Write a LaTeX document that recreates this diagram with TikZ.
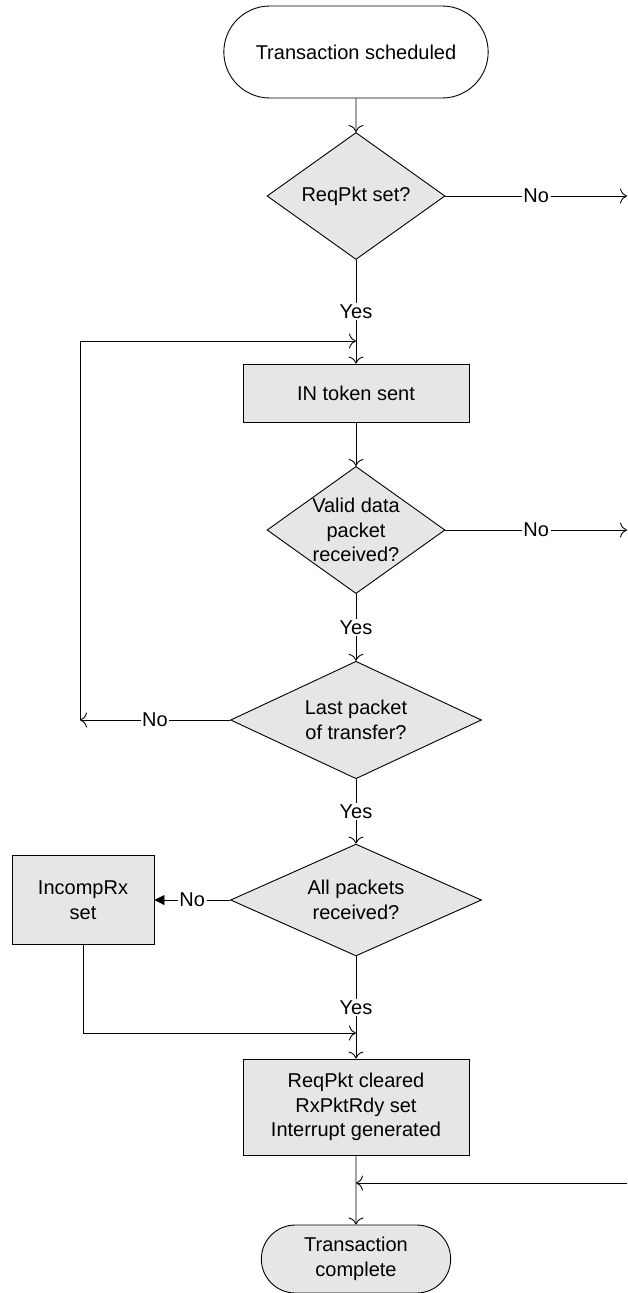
\documentclass[tikz,border=0pt]{standalone}
\usepackage{fontspec}
\setmainfont{Liberation Sans}
\usepackage{tikz}
\usetikzlibrary{shapes.geometric,arrows.meta,positioning,shapes.misc}

\definecolor{boxgray}{RGB}{230,230,230}
\tikzset{
  terminal/.style={draw, rounded rectangle, align=center, line width=0.9pt},
  process/.style={draw, rectangle, fill=boxgray, align=center, line width=0.9pt},
  decision/.style={draw, diamond, fill=boxgray, align=center, inner sep=-6pt, line width=0.9pt},
  flow/.style={-{To[length=7pt,width=15pt]}, line width=0.9pt},
  lbl/.style={fill=white, inner sep=1.5pt},
}

\begin{document}
\begin{tikzpicture}[x=1pt,y=-1pt,font=\fontsize{20}{24.5}\selectfont]
  \useasboundingbox (0,0) rectangle (628,1293);
  \node[terminal, minimum width=271pt, minimum height=92pt] (start) at (356,52) {Transaction scheduled};
  \node[decision, minimum width=178pt, minimum height=127pt] (reqpkt) at (356,196) {ReqPkt set?};
  \node[process, minimum width=226pt, minimum height=58pt] (intoken) at (356,393) {IN token sent};
  \node[decision, minimum width=178pt, minimum height=127pt] (valid) at (356,530) {Valid data\\packet\\received?};
  \node[decision, minimum width=251pt, minimum height=107pt] (last) at (356,720) {Last packet\\of transfer?};
  \node[decision, minimum width=251pt, minimum height=107pt] (allpkt) at (356,900) {All packets\\received?};
  \node[process, minimum width=142pt, minimum height=89pt] (incomp) at (83,900) {IncompRx\\set};
  \node[process, minimum width=226pt, minimum height=96pt] (cleared) at (356,1107) {ReqPkt cleared\\RxPktRdy set\\Interrupt generated};
  \node[terminal, fill=boxgray, minimum width=196pt, minimum height=68pt] (done) at (356,1259) {Transaction\\complete};
  % loose ends at the page edge and on the main line
  \coordinate (exitreq) at (627,196);
  \coordinate (exitvalid) at (627,530);
  \coordinate (entrydone) at (627,1183);
  \coordinate (joindone) at (356,1183);
  \coordinate (loopleft) at (80,720);
  \coordinate (looptop) at (80,341);
  \coordinate (jointoken) at (356,341);
  \coordinate (joincleared) at (356,1033);
  \draw[flow] (start) -- (reqpkt);
  \draw[flow] (reqpkt.east) -- node[lbl] {No} (exitreq);
  \draw[flow] (reqpkt.south) -- node[lbl] {Yes} (intoken.north);
  \draw[flow] (intoken) -- (valid);
  \draw[flow] (valid.east) -- node[lbl] {No} (exitvalid);
  \draw[flow] (valid.south) -- node[lbl] {Yes} (last.north);
  \draw[flow] (last.west) -- node[lbl] {No} (loopleft);
  \draw[flow] (loopleft) -- (looptop) -- (jointoken);
  \draw[flow] (last.south) -- node[lbl] {Yes} (allpkt.north);
  \draw[-{Triangle[length=10pt,width=10pt]}, line width=0.9pt] (allpkt.west) -- node[lbl] {No} (incomp.east);
  \draw[flow] (allpkt.south) -- node[lbl] {Yes} (cleared.north);
  \draw[flow] (incomp.south) |- (joincleared);
  \draw[flow] (cleared) -- (done);
  \draw[flow] (entrydone) -- (joindone);
\end{tikzpicture}
\end{document}
